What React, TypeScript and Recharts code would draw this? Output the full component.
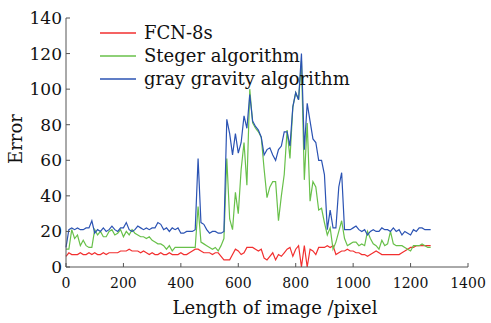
import React from 'react';
import {
  LineChart,
  Line,
  XAxis,
  YAxis,
  Legend,
  Label,
} from 'recharts';

// image position (pixel), sampled every 10 px
const positions = [
  0, 10, 20, 30, 40, 50, 60, 70, 80, 90, 100, 110, 120, 130, 140, 150, 160, 170, 180, 190,
  200, 210, 220, 230, 240, 250, 260, 270, 280, 290, 300, 310, 320, 330, 340, 350, 360, 370, 380, 390,
  400, 410, 420, 430, 440, 450, 460, 470, 480, 490, 500, 510, 520, 530, 540, 550, 560, 570, 580, 590,
  600, 610, 620, 630, 640, 650, 660, 670, 680, 690, 700, 710, 720, 730, 740, 750, 760, 770, 780, 790,
  800, 810, 820, 830, 840, 850, 860, 870, 880, 890, 900, 910, 920, 930, 940, 950, 960, 970, 980, 990,
  1000, 1010, 1020, 1030, 1040, 1050, 1060, 1070, 1080, 1090, 1100, 1110, 1120, 1130, 1140, 1150, 1160, 1170, 1180, 1190,
  1200, 1210, 1220, 1230, 1240, 1250, 1260, 1270,
];

const fcnErr = [
  6, 8, 7, 7, 7, 8, 7, 7, 8, 7, 8, 7, 7, 8, 7, 8, 8, 8, 8, 9,
  9, 9, 10, 9, 9, 9, 8, 9, 8, 7, 8, 7, 7, 8, 7, 7, 8, 7, 7, 7,
  8, 7, 7, 8, 9, 10, 10, 9, 8, 8, 8, 7, 8, 8, 6, 4, 4, 4, 7, 10,
  9, 7, 8, 11, 11, 11, 10, 9, 10, 5, 4, 6, 8, 4, 7, 6, 8, 10, 11, 6,
  10, 12, 0, 12, 0, 10, 9, 7, 11, 11, 11, 12, 11, 12, 7, 8, 9, 9, 10, 9,
  9, 8, 8, 7, 7, 6, 7, 8, 9, 8, 7, 7, 7, 7, 7, 7, 7, 8, 9, 10,
  11, 11, 12, 12, 12, 12, 12, 12,
];

const stegerErr = [
  10, 10, 21, 16, 18, 12, 15, 12, 11, 11, 21, 18, 20, 17, 17, 20, 21, 18, 19, 21,
  17, 20, 18, 21, 19, 18, 17, 17, 16, 17, 15, 14, 13, 13, 12, 10, 12, 9, 11, 11,
  11, 11, 11, 11, 11, 11, 34, 14, 13, 12, 11, 10, 11, 9, 12, 16, 61, 27, 21, 42,
  30, 55, 70, 46, 100, 81, 78, 76, 73, 55, 39, 45, 48, 48, 26, 40, 52, 77, 61, 90,
  98, 94, 116, 49, 81, 37, 48, 45, 32, 33, 25, 18, 22, 10, 14, 20, 26, 16, 12, 13,
  14, 14, 12, 13, 12, 20, 16, 13, 12, 10, 15, 12, 13, 20, 13, 12, 12, 12, 11, 10,
  9, 12, 12, 12, 13, 12, 11, 11,
];

const grayGravityErr = [
  11, 21, 22, 21, 22, 21, 21, 22, 22, 26, 19, 21, 20, 22, 20, 21, 23, 21, 20, 22,
  22, 25, 21, 20, 21, 23, 22, 21, 22, 21, 22, 22, 25, 24, 21, 22, 20, 22, 21, 22,
  19, 19, 20, 20, 20, 21, 61, 25, 24, 21, 19, 20, 20, 19, 19, 20, 83, 75, 63, 75,
  64, 70, 85, 78, 97, 82, 79, 77, 73, 63, 66, 67, 63, 60, 66, 68, 76, 76, 68, 90,
  98, 94, 120, 66, 92, 82, 72, 70, 60, 60, 52, 21, 32, 22, 22, 45, 53, 21, 21, 21,
  22, 23, 21, 20, 21, 18, 20, 21, 20, 20, 22, 21, 21, 20, 22, 20, 21, 18, 20, 19,
  18, 21, 20, 22, 22, 21, 21, 21,
];

const xTicks = [0, 200, 400, 600, 800, 1000, 1200, 1400];
const yTicks = [0, 20, 40, 60, 80, 100, 120, 140];

const series = [
  { key: 'fcn', name: 'FCN-8s', color: '#f22f2f' },
  { key: 'steger', name: 'Steger algorithm', color: '#68c04a' },
  { key: 'gray', name: 'gray gravity algorithm', color: '#2b53b3' },
];

const data = positions.map((x, i) => ({
  x,
  fcn: fcnErr[i],
  steger: stegerErr[i],
  gray: grayGravityErr[i],
}));

const FONT = '"DejaVu Serif", serif';
const AXIS = '#555';

const renderLegend = () => (
  <div style={{ fontFamily: FONT, fontSize: 18, color: '#111' }}>
    {series.map((s) => (
      <div key={s.key} style={{ display: 'flex', alignItems: 'center', height: 23 }}>
        <svg width={36} height={4} style={{ marginRight: 8 }}>
          <line x1={0} y1={2} x2={36} y2={2} stroke={s.color} strokeWidth={1.3} />
        </svg>
        <span>{s.name}</span>
      </div>
    ))}
  </div>
);

export default function App() {
  return (
    <div style={{ position: 'fixed', left: 0, top: 0, width: 491, height: 323, background: '#fff' }}>
      <LineChart
        width={491}
        height={323}
        data={data}
        margin={{ top: 18, right: 23, left: 0, bottom: 0 }}
      >
        <XAxis
          dataKey="x"
          type="number"
          domain={[0, 1400]}
          ticks={xTicks}
          height={56}
          stroke={AXIS}
          tickSize={-4}
          tickMargin={15}
          tick={{ fill: '#111', fontFamily: FONT, fontSize: 14 }}
        >
          <Label
            content={() => (
              <text x={275} y={314} textAnchor="middle" fill="#111" fontFamily={FONT} fontSize={18}>
                Length of image /pixel
              </text>
            )}
          />
        </XAxis>
        <YAxis
          type="number"
          domain={[0, 140]}
          ticks={yTicks}
          width={66}
          stroke={AXIS}
          tickSize={-4}
          tickMargin={8}
          tick={{ fill: '#111', fontFamily: FONT, fontSize: 17 }}
        >
          <Label
            content={() => (
              <text
                transform="translate(22,139) rotate(-90)"
                textAnchor="middle"
                fill="#111"
                fontFamily={FONT}
                fontSize={18}
              >
                Error
              </text>
            )}
          />
        </YAxis>
        <Legend
          layout="vertical"
          align="center"
          verticalAlign="middle"
          wrapperStyle={{ top: 21, left: 100 }}
          content={renderLegend}
        />
        {series.map((s) => (
          <Line
            key={s.key}
            dataKey={s.key}
            name={s.name}
            stroke={s.color}
            strokeWidth={1.2}
            dot={false}
            isAnimationActive={false}
          />
        ))}
      </LineChart>
    </div>
  );
}
